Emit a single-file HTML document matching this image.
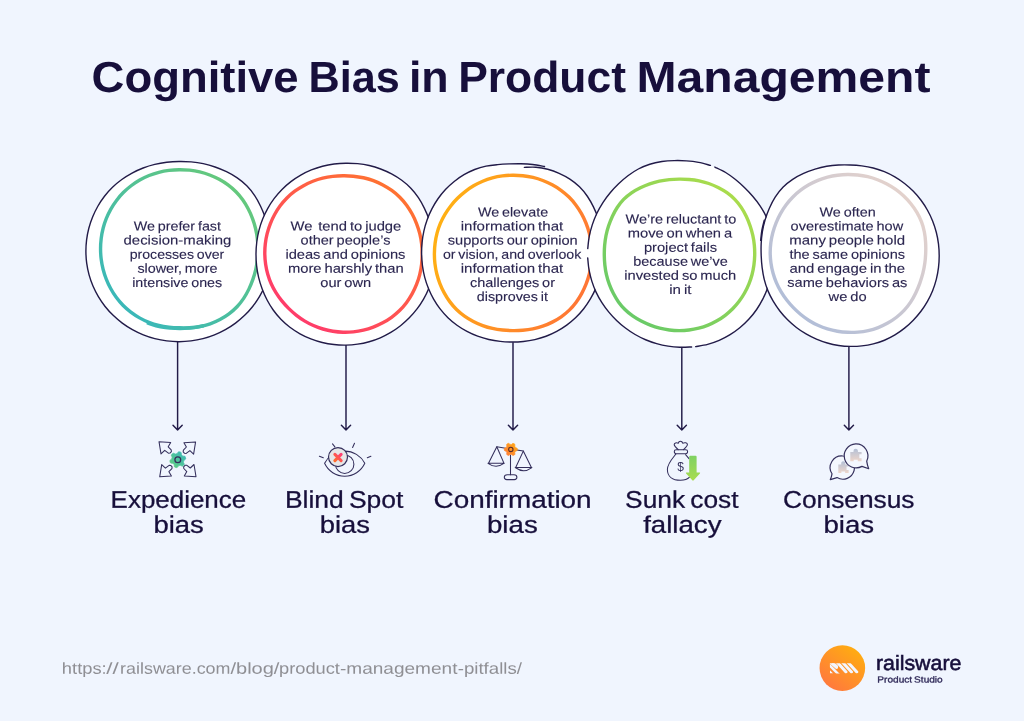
<!DOCTYPE html>
<html lang="en"><head><meta charset="utf-8"><title>Cognitive Bias in Product Management</title>
<style>
html,body{margin:0;padding:0}
body{width:1024px;height:721px;overflow:hidden;background:#f0f5fe;font-family:"Liberation Sans",sans-serif}
.page{position:relative;width:1024px;height:721px;overflow:hidden;background:#f0f5fe}
.art{position:absolute;left:0;top:0}
h1,h2,p{margin:0;font-weight:normal;font-size:inherit}
.ln{position:absolute;left:0;top:0;word-spacing:-0.08em;white-space:pre;line-height:1;transform-origin:0 0;display:block}
.title .ln{font-weight:bold;color:#170f3b}
.desc .ln{color:#2b2650;-webkit-text-stroke:0.12px #2b2650}
.label .ln{color:#170f3b;-webkit-text-stroke:0.28px #170f3b}
.url .ln{color:#8f8f94;text-decoration:none}
.brand .name{color:#170f3b;-webkit-text-stroke:0.55px #170f3b}
.brand .sub{color:#2f2958;-webkit-text-stroke:0.3px #2f2958}
.oc{fill:#fff;stroke:#221b48;stroke-width:1.4}
.of{fill:#fff;stroke:none}
.os{fill:none;stroke:#221b48;stroke-width:1.4;stroke-linecap:round}
.rg{fill:none;stroke-width:3.4;stroke-linecap:round}
.ar{fill:none;stroke:#221b48;stroke-width:1.45;stroke-linecap:round;stroke-linejoin:round}
.ic{fill:none;stroke:#342f5c;stroke-width:1.05;stroke-linecap:round;stroke-linejoin:round}
</style></head><body>
<main class="page">
<svg class="art" width="1024" height="721" viewBox="0 0 1024 721" aria-hidden="true">
<defs>
<linearGradient id="g1" gradientUnits="userSpaceOnUse" x1="240" y1="185" x2="120" y2="315"><stop offset="0" stop-color="#66c97a"/><stop offset="1" stop-color="#38b7bb"/></linearGradient>
<linearGradient id="g2" gradientUnits="userSpaceOnUse" x1="400" y1="190" x2="290" y2="320"><stop offset="0" stop-color="#ff7330"/><stop offset="1" stop-color="#ff3a6c"/></linearGradient>
<linearGradient id="g3" gradientUnits="userSpaceOnUse" x1="432" y1="225" x2="594" y2="280"><stop offset="0" stop-color="#ffb212"/><stop offset="1" stop-color="#ff7436"/></linearGradient>
<linearGradient id="g4" gradientUnits="userSpaceOnUse" x1="735" y1="195" x2="625" y2="315"><stop offset="0" stop-color="#aadc4c"/><stop offset="1" stop-color="#68ca68"/></linearGradient>
<linearGradient id="g5" gradientUnits="userSpaceOnUse" x1="910" y1="195" x2="790" y2="315"><stop offset="0" stop-color="#e4d2cc"/><stop offset="1" stop-color="#b0bdd8"/></linearGradient>
<linearGradient id="gl" x1="0.8" y1="0.1" x2="0.2" y2="0.9"><stop offset="0" stop-color="#ffab12"/><stop offset="1" stop-color="#ff7a3c"/></linearGradient>
<linearGradient id="gi1" x1="1" y1="0" x2="0" y2="1"><stop offset="0" stop-color="#38b6bd"/><stop offset="1" stop-color="#62cf7c"/></linearGradient><linearGradient id="gi3" x1="1" y1="0" x2="0" y2="1"><stop offset="0" stop-color="#ffab15"/><stop offset="1" stop-color="#ff7a38"/></linearGradient><linearGradient id="gx" x1="1" y1="0" x2="0" y2="1"><stop offset="0" stop-color="#ff3f74"/><stop offset="1" stop-color="#ff6c2c"/></linearGradient><linearGradient id="g4a" x1="0" y1="0" x2="0" y2="1"><stop offset="0" stop-color="#7fd163"/><stop offset="1" stop-color="#a9dc4f"/></linearGradient><linearGradient id="g5p" x1="0" y1="0" x2="0" y2="1"><stop offset="0" stop-color="#b4c0d6"/><stop offset="1" stop-color="#eed6cb"/></linearGradient>
</defs>
<path class="ar" d="M177.6 341.5V429.9M173.0 425.3L177.6 430.1L182.2 425.3"/>
<path class="ar" d="M346.0 344.5V429.9M341.4 425.3L346.0 430.1L350.6 425.3"/>
<path class="ar" d="M513.0 342.8V429.9M508.4 425.3L513.0 430.1L517.6 425.3"/>
<path class="ar" d="M681.8 347.5V429.9M677.1999999999999 425.3L681.8 430.1L686.4 425.3"/>
<path class="ar" d="M848.9 346.5V429.9M844.3 425.3L848.9 430.1L853.5 425.3"/>
<path class="oc" d="M271.90 251.60C271.90 255.52 271.61 259.47 271.08 263.36C270.55 267.24 269.76 271.13 268.72 274.92C267.68 278.70 266.37 282.46 264.82 286.08C263.27 289.70 261.46 293.26 259.44 296.65C257.42 300.04 255.15 303.34 252.68 306.45C250.22 309.56 247.52 312.54 244.66 315.31C241.80 318.08 238.72 320.69 235.51 323.08C232.30 325.47 228.90 327.67 225.40 329.63C221.90 331.59 218.23 333.34 214.49 334.84C210.75 336.34 206.88 337.62 202.97 338.63C199.06 339.64 195.05 340.42 191.04 340.93C187.03 341.44 182.95 341.70 178.90 341.70C174.85 341.70 170.77 341.44 166.76 340.93C162.75 340.42 158.74 339.64 154.83 338.63C150.92 337.62 147.05 336.34 143.31 334.84C139.57 333.34 135.90 331.59 132.40 329.63C128.90 327.67 125.50 325.47 122.29 323.08C119.08 320.69 116.00 318.08 113.14 315.31C110.28 312.54 107.58 309.56 105.12 306.45C102.65 303.34 100.38 300.04 98.36 296.65C96.34 293.26 94.53 289.70 92.98 286.08C91.43 282.46 90.13 278.70 89.08 274.92C88.04 271.13 87.26 267.24 86.73 263.36C86.19 259.47 85.92 255.52 85.90 251.60C85.88 247.68 86.11 243.72 86.60 239.83C87.09 235.93 87.83 232.03 88.83 228.22C89.83 224.41 91.11 220.63 92.61 216.97C94.11 213.31 95.86 209.70 97.84 206.25C99.82 202.80 102.04 199.43 104.48 196.26C106.92 193.09 109.62 190.05 112.50 187.25C115.39 184.46 118.53 181.85 121.80 179.48C125.06 177.11 128.54 174.97 132.10 173.05C135.66 171.14 139.38 169.43 143.16 167.99C146.94 166.54 150.85 165.34 154.78 164.39C158.72 163.44 162.74 162.76 166.76 162.28C170.78 161.80 174.85 161.56 178.90 161.50C182.95 161.44 187.03 161.55 191.09 161.91C195.14 162.28 199.21 162.83 203.21 163.67C207.21 164.52 211.19 165.63 215.06 166.97C218.94 168.31 222.78 169.89 226.48 171.70C230.17 173.52 233.84 175.54 237.23 177.89C240.61 180.23 243.90 182.86 246.78 185.77C249.67 188.68 252.24 191.97 254.52 195.34C256.80 198.70 258.70 202.35 260.46 205.96C262.22 209.57 263.72 213.29 265.10 217.01C266.48 220.72 267.74 224.47 268.74 228.28C269.74 232.08 270.57 235.95 271.09 239.84C271.62 243.73 271.90 247.68 271.90 251.60Z"/>
<path class="rg" d="M257.95 248.75C257.97 252.19 257.82 255.66 257.46 259.09C257.10 262.53 256.55 265.97 255.79 269.35C255.02 272.73 254.04 276.09 252.88 279.38C251.73 282.68 250.41 285.95 248.88 289.12C247.34 292.29 245.65 295.46 243.67 298.40C241.70 301.34 239.47 304.19 237.02 306.77C234.57 309.34 231.83 311.71 228.98 313.84C226.13 315.96 223.07 317.86 219.94 319.53C216.81 321.19 213.53 322.65 210.21 323.82C206.89 324.98 203.43 325.88 200.00 326.52C196.56 327.17 193.06 327.48 189.60 327.70C186.14 327.91 182.69 327.89 179.25 327.80C175.81 327.71 172.39 327.53 168.98 327.13C165.57 326.73 162.14 326.21 158.80 325.41C155.45 324.62 152.12 323.60 148.90 322.34C145.69 321.08 142.54 319.56 139.52 317.86C136.51 316.17 133.57 314.26 130.81 312.16C128.05 310.06 125.40 307.75 122.96 305.28C120.53 302.81 118.27 300.12 116.21 297.33C114.16 294.54 112.31 291.57 110.65 288.53C108.99 285.49 107.53 282.33 106.26 279.12C105.00 275.90 103.93 272.59 103.08 269.25C102.23 265.91 101.59 262.49 101.17 259.07C100.75 255.66 100.55 252.19 100.55 248.75C100.55 245.31 100.77 241.84 101.19 238.43C101.62 235.01 102.26 231.59 103.12 228.26C103.98 224.93 105.07 221.62 106.36 218.42C107.64 215.23 109.16 212.09 110.85 209.08C112.54 206.08 114.45 203.16 116.53 200.41C118.60 197.65 120.89 195.01 123.32 192.57C125.75 190.13 128.38 187.83 131.12 185.75C133.86 183.66 136.77 181.75 139.76 180.05C142.75 178.34 145.87 176.82 149.06 175.53C152.24 174.24 155.54 173.16 158.86 172.30C162.18 171.44 165.58 170.82 168.98 170.38C172.38 169.95 175.82 169.73 179.25 169.70C182.68 169.67 186.13 169.81 189.55 170.18C192.96 170.55 196.40 171.11 199.75 171.91C203.10 172.71 206.44 173.74 209.67 174.98C212.91 176.22 216.10 177.68 219.15 179.33C222.21 180.99 225.21 182.85 228.01 184.93C230.81 187.00 233.51 189.31 235.96 191.79C238.41 194.28 240.67 197.02 242.70 199.85C244.73 202.69 246.53 205.72 248.15 208.80C249.77 211.87 251.20 215.07 252.42 218.31C253.65 221.55 254.69 224.87 255.50 228.23C256.32 231.58 256.91 235.01 257.31 238.43C257.72 241.85 257.93 245.31 257.95 248.75Z" stroke="url(#g1)"/>
<path class="rg" style="stroke-linecap:butt" d="M203.58 325.78C202.00 326.09 197.28 327.19 194.11 327.62C190.94 328.06 187.74 328.27 184.56 328.40C181.38 328.52 178.20 328.52 175.03 328.38C171.85 328.24 168.67 328.00 165.51 327.56C162.35 327.12 159.18 326.55 156.08 325.75C152.98 324.94 148.45 323.22 146.92 322.71" stroke="url(#g1)"/>
<path class="oc" d="M435.60 253.80C435.60 257.74 435.33 261.72 434.82 265.62C434.31 269.53 433.54 273.44 432.53 277.25C431.52 281.05 430.26 284.83 428.76 288.47C427.27 292.11 425.52 295.68 423.56 299.09C421.60 302.51 419.40 305.81 417.03 308.94C414.65 312.07 412.05 315.06 409.30 317.86C406.55 320.66 403.60 323.31 400.51 325.74C397.43 328.16 394.16 330.41 390.79 332.42C387.42 334.43 383.89 336.23 380.28 337.78C376.67 339.33 372.93 340.65 369.15 341.71C365.37 342.77 361.48 343.59 357.59 344.15C353.70 344.72 349.74 345.03 345.80 345.10C341.86 345.17 337.88 345.00 333.95 344.56C330.03 344.13 326.09 343.46 322.24 342.51C318.39 341.57 314.56 340.34 310.86 338.89C307.16 337.43 303.51 335.72 300.02 333.78C296.54 331.84 293.12 329.66 289.93 327.24C286.74 324.82 283.68 322.15 280.89 319.28C278.10 316.40 275.52 313.26 273.20 310.00C270.88 306.74 268.81 303.25 266.96 299.72C265.11 296.18 263.49 292.50 262.10 288.78C260.70 285.05 259.53 281.22 258.61 277.37C257.69 273.52 257.03 269.58 256.59 265.65C256.16 261.72 255.97 257.75 256.00 253.80C256.03 249.85 256.28 245.89 256.78 241.98C257.27 238.06 257.99 234.15 258.97 230.33C259.95 226.51 261.18 222.71 262.65 219.05C264.12 215.39 265.85 211.80 267.79 208.36C269.72 204.92 271.90 201.58 274.27 198.43C276.64 195.27 279.25 192.25 282.02 189.45C284.79 186.65 287.79 184.03 290.91 181.63C294.04 179.24 297.35 177.05 300.76 175.09C304.17 173.14 307.73 171.39 311.36 169.91C314.99 168.43 318.75 167.19 322.54 166.21C326.32 165.23 330.21 164.51 334.08 164.01C337.96 163.51 341.89 163.26 345.80 163.20C349.71 163.14 353.65 163.28 357.56 163.67C361.47 164.07 365.40 164.66 369.24 165.55C373.08 166.44 376.91 167.60 380.62 168.99C384.34 170.38 388.01 172.02 391.53 173.90C395.05 175.78 398.52 177.88 401.74 180.26C404.96 182.64 408.08 185.29 410.85 188.18C413.63 191.07 416.14 194.30 418.38 197.62C420.62 200.93 422.54 204.51 424.30 208.08C426.06 211.65 427.58 215.34 428.95 219.05C430.32 222.76 431.56 226.53 432.53 230.35C433.51 234.17 434.31 238.07 434.82 241.98C435.33 245.88 435.60 249.86 435.60 253.80Z"/>
<path class="rg" d="M422.20 254.00C422.20 257.45 422.01 260.92 421.60 264.35C421.18 267.77 420.57 271.21 419.73 274.56C418.89 277.91 417.81 281.24 416.54 284.46C415.27 287.68 413.78 290.85 412.09 293.89C410.41 296.93 408.53 299.90 406.44 302.68C404.35 305.46 402.05 308.13 399.57 310.57C397.09 313.01 394.38 315.27 391.58 317.31C388.77 319.35 385.78 321.18 382.72 322.80C379.67 324.43 376.49 325.86 373.27 327.08C370.05 328.30 366.73 329.32 363.39 330.11C360.06 330.90 356.64 331.47 353.25 331.82C349.85 332.17 346.40 332.30 343.00 332.20C339.60 332.10 336.18 331.78 332.83 331.25C329.48 330.71 326.15 329.95 322.91 329.00C319.66 328.04 316.46 326.87 313.38 325.51C310.30 324.15 307.29 322.57 304.42 320.83C301.55 319.08 298.78 317.13 296.15 315.06C293.52 312.98 291.01 310.73 288.62 308.38C286.24 306.02 283.96 303.54 281.85 300.92C279.74 298.31 277.74 295.57 275.96 292.70C274.19 289.84 272.58 286.83 271.21 283.73C269.85 280.64 268.70 277.42 267.77 274.16C266.83 270.90 266.12 267.55 265.62 264.19C265.13 260.83 264.85 257.40 264.80 254.00C264.75 250.60 264.92 247.16 265.31 243.77C265.70 240.38 266.32 236.99 267.15 233.68C267.98 230.36 269.04 227.07 270.29 223.88C271.54 220.69 272.99 217.55 274.64 214.53C276.29 211.52 278.13 208.56 280.18 205.80C282.23 203.03 284.49 200.36 286.93 197.93C289.36 195.49 292.03 193.23 294.80 191.18C297.56 189.13 300.52 187.29 303.53 185.64C306.55 183.99 309.69 182.53 312.88 181.29C316.08 180.05 319.37 179.02 322.69 178.21C326.01 177.40 329.40 176.83 332.79 176.43C336.17 176.03 339.59 175.84 343.00 175.80C346.41 175.76 349.84 175.86 353.24 176.19C356.65 176.51 360.08 176.99 363.44 177.73C366.79 178.47 370.14 179.45 373.39 180.64C376.63 181.84 379.82 183.28 382.89 184.91C385.96 186.54 388.96 188.38 391.78 190.43C394.59 192.48 397.31 194.76 399.78 197.22C402.25 199.68 404.54 202.39 406.61 205.19C408.67 208.00 410.51 211.01 412.17 214.06C413.83 217.12 415.28 220.31 416.54 223.54C417.80 226.77 418.87 230.09 419.71 233.45C420.55 236.80 421.17 240.23 421.58 243.65C422.00 247.08 422.20 250.55 422.20 254.00Z" stroke="url(#g2)"/>
<path class="of" d="M603.20 253.00C603.02 254.99 602.73 261.00 602.13 264.93C601.52 268.86 600.67 272.78 599.57 276.60C598.48 280.42 597.13 284.18 595.57 287.82C594.01 291.47 592.22 295.04 590.22 298.45C588.22 301.86 586.00 305.18 583.57 308.30C581.14 311.41 578.47 314.39 575.63 317.13C572.80 319.87 569.73 322.43 566.55 324.74C563.36 327.05 559.99 329.14 556.53 331.00C553.08 332.86 549.48 334.50 545.83 335.87C542.17 337.24 538.39 338.36 534.60 339.23C530.82 340.09 526.95 340.67 523.09 341.07C519.24 341.46 515.36 341.62 511.50 341.60C507.64 341.58 503.76 341.39 499.92 340.96C496.08 340.53 492.22 339.92 488.45 339.02C484.68 338.13 480.92 336.98 477.29 335.59C473.65 334.21 470.07 332.57 466.63 330.72C463.19 328.86 459.82 326.79 456.66 324.48C453.49 322.16 450.44 319.61 447.65 316.85C444.85 314.10 442.25 311.08 439.89 307.95C437.53 304.81 435.39 301.46 433.49 298.04C431.58 294.62 429.89 291.04 428.44 287.40C427.00 283.77 425.79 280.01 424.83 276.22C423.88 272.44 423.19 268.56 422.72 264.69C422.25 260.82 422.02 256.90 422.00 253.00C421.98 249.10 422.16 245.18 422.59 241.30C423.02 237.41 423.67 233.52 424.58 229.71C425.50 225.90 426.67 222.12 428.07 218.44C429.48 214.77 431.13 211.15 433.00 207.68C434.88 204.21 436.98 200.80 439.31 197.61C441.65 194.41 444.24 191.34 447.01 188.51C449.79 185.68 452.80 183.02 455.96 180.61C459.11 178.21 462.47 175.99 465.93 174.07C469.40 172.16 473.04 170.43 476.75 169.11C480.47 167.79 484.37 166.83 488.22 166.13C492.08 165.44 496.03 165.17 499.91 164.93C503.79 164.69 507.64 164.69 511.50 164.70C515.36 164.71 519.21 164.72 523.09 164.97C526.96 165.23 530.88 165.55 534.75 166.21C538.63 166.87 542.51 167.78 546.32 168.93C550.14 170.07 553.95 171.45 557.65 173.07C561.35 174.70 565.08 176.50 568.53 178.68C571.97 180.87 575.35 183.37 578.32 186.18C581.29 188.99 583.98 192.22 586.36 195.56C588.75 198.89 590.78 202.52 592.62 206.16C594.46 209.81 596.04 213.60 597.42 217.41C598.80 221.22 599.98 225.12 600.88 229.05C601.77 232.98 602.41 236.99 602.79 240.98C603.18 244.97 603.13 251.00 603.20 253.00Z"/>
<path class="os" d="M524.30 167.35C526.25 167.33 532.10 166.92 536.01 167.24C539.91 167.57 543.87 168.28 547.72 169.28C551.57 170.29 555.42 171.65 559.11 173.28C562.80 174.91 566.48 176.82 569.87 179.07C573.27 181.31 576.58 183.89 579.49 186.75C582.39 189.61 585.00 192.89 587.33 196.25C589.65 199.61 591.63 203.25 593.43 206.90C595.23 210.55 596.78 214.34 598.12 218.15C599.45 221.97 600.59 225.87 601.45 229.79C602.31 233.72 602.91 237.72 603.26 241.70C603.62 245.68 603.72 249.71 603.58 253.69C603.44 257.67 603.06 261.66 602.43 265.58C601.80 269.50 600.93 273.40 599.82 277.20C598.71 281.00 597.34 284.75 595.77 288.38C594.20 292.00 592.40 295.55 590.39 298.95C588.38 302.35 586.15 305.65 583.72 308.75C581.28 311.85 578.62 314.82 575.78 317.55C572.95 320.27 569.88 322.81 566.71 325.11C563.53 327.42 560.16 329.50 556.72 331.36C553.27 333.21 549.68 334.85 546.04 336.22C542.39 337.59 538.63 338.71 534.85 339.58C531.07 340.45 527.21 341.04 523.37 341.44C519.53 341.85 515.66 342.01 511.80 342.00C507.95 341.99 504.08 341.82 500.25 341.40C496.42 340.99 492.57 340.39 488.80 339.51C485.04 338.64 481.29 337.52 477.65 336.16C474.02 334.80 470.43 333.19 466.99 331.36C463.55 329.54 460.17 327.49 457.00 325.21C453.82 322.94 450.76 320.42 447.94 317.70C445.13 314.98 442.50 312.00 440.11 308.90C437.72 305.80 435.55 302.48 433.61 299.08C431.67 295.69 429.95 292.14 428.47 288.53C426.99 284.91 425.73 281.18 424.73 277.42C423.73 273.65 423.00 269.79 422.48 265.94C421.96 262.08 421.68 258.17 421.61 254.29C421.55 250.40 421.68 246.48 422.06 242.61C422.43 238.73 423.02 234.84 423.87 231.03C424.72 227.22 425.82 223.42 427.16 219.74C428.50 216.05 430.09 212.42 431.90 208.93C433.70 205.43 435.73 202.00 437.99 198.77C440.26 195.53 442.77 192.42 445.47 189.53C448.18 186.65 451.13 183.94 454.22 181.46C457.31 178.99 460.61 176.70 464.02 174.71C467.43 172.71 471.01 170.91 474.68 169.48C478.35 168.05 482.20 166.94 486.03 166.13C489.86 165.32 493.80 164.98 497.67 164.61C501.54 164.25 505.39 164.07 509.25 163.92C513.12 163.78 516.98 163.66 520.89 163.74C524.79 163.83 528.75 163.97 532.69 164.43C536.62 164.89 542.55 166.17 544.52 166.52"/>
<path class="rg" d="M591.80 253.40C591.81 256.85 591.62 260.32 591.20 263.75C590.79 267.17 590.17 270.61 589.32 273.96C588.48 277.31 587.40 280.63 586.14 283.86C584.88 287.09 583.42 290.28 581.76 293.33C580.10 296.38 578.25 299.39 576.18 302.19C574.10 304.98 571.80 307.68 569.31 310.11C566.82 312.54 564.07 314.78 561.23 316.78C558.39 318.78 555.36 320.55 552.28 322.12C549.20 323.69 546.00 325.07 542.76 326.20C539.52 327.34 536.18 328.24 532.84 328.92C529.50 329.61 526.10 330.01 522.72 330.29C519.35 330.57 515.97 330.64 512.60 330.60C509.23 330.56 505.86 330.40 502.51 330.04C499.16 329.68 495.79 329.19 492.49 328.44C489.19 327.69 485.91 326.72 482.71 325.55C479.52 324.39 476.36 323.00 473.33 321.42C470.29 319.84 467.29 318.08 464.49 316.09C461.69 314.10 458.99 311.88 456.53 309.47C454.07 307.06 451.79 304.40 449.74 301.63C447.69 298.87 445.86 295.90 444.22 292.88C442.58 289.86 441.13 286.71 439.89 283.52C438.65 280.32 437.59 277.03 436.77 273.72C435.94 270.40 435.34 267.01 434.94 263.62C434.55 260.24 434.37 256.80 434.40 253.40C434.43 250.00 434.65 246.57 435.09 243.20C435.54 239.82 436.18 236.45 437.06 233.16C437.94 229.87 439.04 226.61 440.35 223.47C441.67 220.34 443.23 217.27 444.96 214.35C446.69 211.42 448.65 208.60 450.74 205.93C452.83 203.26 455.11 200.71 457.52 198.32C459.92 195.92 462.48 193.65 465.16 191.57C467.84 189.49 470.66 187.55 473.59 185.83C476.51 184.11 479.58 182.56 482.71 181.25C485.84 179.93 489.10 178.83 492.38 177.94C495.66 177.06 499.03 176.40 502.40 175.94C505.77 175.49 509.20 175.24 512.60 175.20C516.00 175.16 519.44 175.31 522.83 175.69C526.22 176.06 529.63 176.64 532.95 177.44C536.28 178.25 539.59 179.28 542.79 180.51C546.00 181.73 549.17 183.18 552.20 184.81C555.23 186.45 558.21 188.28 561.00 190.32C563.80 192.36 566.49 194.61 568.96 197.04C571.42 199.47 573.73 202.13 575.81 204.90C577.90 207.66 579.79 210.61 581.48 213.63C583.17 216.65 584.67 219.81 585.96 223.01C587.24 226.22 588.34 229.53 589.20 232.87C590.07 236.22 590.71 239.64 591.14 243.06C591.57 246.48 591.79 249.95 591.80 253.40Z" stroke="url(#g3)"/>
<path class="of" d="M772.80 254.00C772.69 256.02 772.61 262.11 772.16 266.13C771.72 270.16 771.06 274.19 770.11 278.14C769.17 282.09 767.96 286.02 766.51 289.82C765.05 293.62 763.32 297.36 761.37 300.95C759.43 304.54 757.23 308.05 754.82 311.35C752.40 314.65 749.72 317.82 746.87 320.75C744.01 323.69 740.91 326.45 737.68 328.96C734.44 331.47 730.99 333.79 727.44 335.81C723.88 337.84 720.14 339.65 716.33 341.12C712.53 342.60 708.56 343.78 704.59 344.67C700.62 345.57 696.56 346.13 692.52 346.49C688.49 346.84 684.42 346.93 680.40 346.80C676.38 346.67 672.34 346.33 668.38 345.73C664.41 345.13 660.45 344.29 656.60 343.20C652.75 342.11 648.94 340.76 645.27 339.18C641.60 337.60 638.01 335.76 634.58 333.71C631.15 331.67 627.83 329.38 624.68 326.93C621.54 324.47 618.53 321.80 615.70 318.98C612.87 316.17 610.17 313.17 607.69 310.03C605.21 306.89 602.89 303.58 600.82 300.14C598.76 296.71 596.90 293.09 595.31 289.40C593.73 285.70 592.39 281.86 591.31 277.98C590.23 274.09 589.41 270.10 588.86 266.10C588.31 262.11 588.01 258.04 588.00 254.00C587.99 249.96 588.25 245.89 588.78 241.89C589.31 237.88 590.12 233.88 591.16 229.98C592.20 226.08 593.50 222.22 595.03 218.49C596.57 214.75 598.35 211.09 600.35 207.58C602.35 204.08 604.60 200.68 607.01 197.45C609.43 194.21 612.08 191.12 614.85 188.17C617.62 185.21 620.55 182.36 623.65 179.72C626.75 177.08 630.01 174.53 633.46 172.35C636.91 170.16 640.57 168.16 644.35 166.60C648.13 165.04 652.13 163.87 656.12 162.98C660.10 162.10 664.20 161.62 668.25 161.29C672.29 160.96 676.36 160.91 680.40 161.00C684.44 161.09 688.48 161.31 692.48 161.81C696.49 162.32 700.50 163.00 704.41 164.01C708.31 165.02 712.21 166.30 715.91 167.89C719.61 169.49 723.21 171.46 726.62 173.60C730.03 175.74 733.26 178.20 736.36 180.75C739.47 183.30 742.40 186.05 745.24 188.88C748.09 191.70 750.86 194.62 753.44 197.71C756.01 200.81 758.51 204.03 760.68 207.45C762.84 210.87 764.83 214.49 766.41 218.22C768.00 221.95 769.23 225.89 770.20 229.83C771.16 233.78 771.77 237.83 772.21 241.86C772.64 245.89 772.70 251.98 772.80 254.00Z"/>
<path class="os" d="M691.60 346.96C689.63 347.00 683.72 347.33 679.80 347.18C675.89 347.04 671.96 346.69 668.10 346.09C664.24 345.50 660.39 344.68 656.64 343.62C652.89 342.57 649.18 341.27 645.60 339.76C642.01 338.24 638.50 336.47 635.14 334.51C631.79 332.56 628.53 330.36 625.44 328.01C622.35 325.66 619.38 323.10 616.58 320.41C613.78 317.71 611.11 314.84 608.64 311.84C606.16 308.83 603.83 305.67 601.73 302.37C599.64 299.08 597.72 295.62 596.07 292.08C594.42 288.53 592.99 284.84 591.82 281.10C590.64 277.36 589.70 273.50 589.01 269.64C588.32 265.77 587.92 259.86 587.70 257.90"/>
<path class="os" d="M587.74 248.63C587.99 246.61 588.49 240.48 589.25 236.48C590.02 232.48 591.07 228.50 592.34 224.63C593.62 220.76 595.15 216.94 596.91 213.27C598.67 209.60 600.70 206.02 602.92 202.61C605.14 199.19 607.60 195.90 610.21 192.77C612.82 189.64 615.64 186.65 618.60 183.81C621.55 180.97 624.64 178.20 627.93 175.73C631.23 173.27 634.71 170.92 638.36 169.00C642.01 167.08 645.89 165.45 649.82 164.21C653.75 162.96 657.87 162.15 661.93 161.55C666.00 160.95 670.13 160.72 674.21 160.60C678.30 160.49 682.38 160.57 686.44 160.85C690.51 161.14 694.58 161.58 698.58 162.33C702.58 163.08 708.46 164.87 710.44 165.37"/>
<path class="os" d="M714.87 167.02C716.66 167.94 722.21 170.44 725.64 172.52C729.08 174.60 732.34 177.00 735.47 179.50C738.60 182.00 741.55 184.72 744.42 187.50C747.29 190.29 750.07 193.17 752.68 196.22C755.29 199.26 757.83 202.43 760.06 205.79C762.29 209.15 764.36 212.70 766.04 216.37C767.71 220.05 769.05 223.95 770.11 227.85C771.17 231.75 771.87 235.79 772.38 239.80C772.89 243.81 773.12 247.86 773.18 251.89C773.25 255.93 773.14 259.98 772.78 264.00C772.41 268.01 771.85 272.05 771.00 276.00C770.16 279.96 769.06 283.90 767.71 287.73C766.35 291.55 764.72 295.32 762.88 298.94C761.03 302.57 758.94 306.12 756.63 309.48C754.32 312.83 751.75 316.07 749.00 319.09C746.24 322.10 743.23 324.94 740.08 327.54C736.93 330.14 733.58 332.56 730.10 334.70C726.62 336.84 722.96 338.76 719.21 340.37C715.47 341.98 711.57 343.32 707.64 344.35C703.71 345.38 697.66 346.20 695.66 346.57"/>
<path class="rg" d="M754.70 255.15C754.63 258.45 754.38 261.76 753.93 265.02C753.48 268.28 752.85 271.54 752.00 274.72C751.16 277.90 750.10 281.05 748.86 284.10C747.62 287.15 746.17 290.14 744.55 293.00C742.93 295.87 741.11 298.66 739.13 301.29C737.15 303.92 734.98 306.45 732.66 308.78C730.34 311.12 727.83 313.32 725.22 315.32C722.61 317.33 719.83 319.17 716.98 320.80C714.13 322.44 711.14 323.90 708.09 325.13C705.05 326.37 701.89 327.40 698.71 328.22C695.53 329.03 692.28 329.62 689.02 330.02C685.77 330.41 682.47 330.61 679.20 330.60C675.93 330.59 672.63 330.39 669.38 329.98C666.13 329.57 662.89 328.94 659.71 328.14C656.53 327.33 653.38 326.30 650.31 325.13C647.23 323.96 644.18 322.64 641.24 321.11C638.30 319.59 635.39 317.91 632.67 315.98C629.96 314.06 627.33 311.91 624.96 309.56C622.60 307.21 620.44 304.59 618.49 301.89C616.55 299.18 614.83 296.27 613.30 293.32C611.76 290.38 610.41 287.32 609.26 284.21C608.12 281.11 607.17 277.92 606.43 274.71C605.70 271.51 605.21 268.23 604.85 264.97C604.50 261.71 604.34 258.43 604.30 255.15C604.26 251.87 604.35 248.58 604.64 245.30C604.93 242.02 605.36 238.72 606.02 235.48C606.68 232.23 607.57 228.99 608.62 225.82C609.67 222.64 610.89 219.48 612.32 216.41C613.75 213.35 615.33 210.27 617.22 207.44C619.10 204.60 621.24 201.83 623.62 199.39C626.01 196.96 628.73 194.77 631.53 192.83C634.33 190.89 637.38 189.25 640.42 187.76C643.46 186.27 646.60 184.98 649.77 183.87C652.94 182.77 656.18 181.83 659.43 181.12C662.68 180.41 665.99 179.94 669.29 179.60C672.58 179.26 675.89 179.13 679.20 179.10C682.51 179.07 685.83 179.15 689.13 179.44C692.44 179.72 695.78 180.13 699.06 180.80C702.33 181.48 705.60 182.39 708.78 183.50C711.96 184.62 715.11 185.96 718.13 187.50C721.16 189.04 724.16 190.76 726.93 192.74C729.71 194.73 732.40 196.95 734.78 199.39C737.16 201.84 739.31 204.58 741.22 207.41C743.13 210.23 744.76 213.28 746.23 216.32C747.70 219.37 748.96 222.53 750.06 225.70C751.16 228.88 752.10 232.11 752.81 235.36C753.52 238.62 754.03 241.93 754.34 245.22C754.66 248.52 754.77 251.85 754.70 255.15Z" stroke="url(#g4)"/>
<path class="of" d="M938.80 255.80C938.68 257.77 938.57 263.71 938.09 267.62C937.60 271.53 936.88 275.44 935.91 279.26C934.94 283.07 933.71 286.86 932.24 290.51C930.77 294.16 929.04 297.74 927.11 301.15C925.17 304.57 922.99 307.88 920.64 311.01C918.29 314.14 915.71 317.13 912.99 319.93C910.27 322.74 907.37 325.41 904.33 327.85C901.29 330.29 898.07 332.58 894.74 334.58C891.40 336.59 887.88 338.39 884.30 339.87C880.71 341.36 876.96 342.57 873.21 343.51C869.45 344.44 865.60 345.09 861.76 345.50C857.93 345.92 854.04 346.08 850.20 346.00C846.36 345.92 842.49 345.61 838.70 345.04C834.90 344.48 831.12 343.66 827.43 342.61C823.74 341.56 820.09 340.27 816.56 338.76C813.03 337.26 809.57 335.52 806.25 333.58C802.93 331.63 799.70 329.46 796.64 327.11C793.58 324.75 790.65 322.17 787.90 319.44C785.16 316.71 782.55 313.78 780.15 310.71C777.75 307.64 775.51 304.39 773.52 301.02C771.54 297.65 769.74 294.10 768.25 290.47C766.77 286.84 765.57 283.04 764.62 279.22C763.67 275.41 763.04 271.49 762.53 267.59C762.03 263.69 761.76 259.75 761.60 255.80C761.44 251.85 761.38 247.87 761.56 243.88C761.75 239.89 762.08 235.85 762.73 231.87C763.38 227.89 764.32 223.90 765.48 219.98C766.64 216.07 768.04 212.16 769.71 208.38C771.38 204.60 773.24 200.80 775.50 197.32C777.75 193.84 780.33 190.44 783.24 187.49C786.14 184.55 789.50 181.93 792.92 179.65C796.35 177.37 800.10 175.49 803.81 173.80C807.52 172.11 811.35 170.70 815.18 169.51C819.02 168.32 822.92 167.36 826.81 166.68C830.71 166.00 834.65 165.65 838.55 165.43C842.45 165.22 846.34 165.25 850.20 165.40C854.06 165.55 857.91 165.81 861.73 166.31C865.56 166.81 869.39 167.44 873.13 168.39C876.87 169.34 880.60 170.54 884.18 172.00C887.77 173.47 891.27 175.24 894.63 177.20C897.98 179.16 901.24 181.37 904.31 183.77C907.38 186.17 910.33 188.80 913.06 191.59C915.80 194.39 918.37 197.39 920.72 200.53C923.06 203.67 925.22 207.00 927.14 210.43C929.07 213.85 930.78 217.44 932.24 221.09C933.70 224.74 934.93 228.53 935.90 232.34C936.88 236.16 937.60 240.07 938.08 243.98C938.57 247.89 938.68 253.83 938.80 255.80Z"/>
<path class="os" d="M939.20 255.80C939.20 259.76 938.97 263.74 938.48 267.67C938.00 271.60 937.27 275.53 936.30 279.36C935.32 283.19 934.08 287.00 932.61 290.66C931.14 294.33 929.40 297.92 927.45 301.35C925.51 304.78 923.32 308.10 920.96 311.25C918.59 314.39 916.00 317.40 913.27 320.22C910.54 323.04 907.63 325.72 904.57 328.17C901.52 330.62 898.29 332.92 894.94 334.93C891.58 336.94 888.05 338.75 884.45 340.24C880.85 341.74 877.09 342.95 873.31 343.89C869.54 344.84 865.67 345.48 861.81 345.90C857.96 346.32 854.06 346.48 850.20 346.40C846.34 346.32 842.46 346.01 838.65 345.44C834.83 344.87 831.03 344.05 827.33 343.00C823.62 341.95 819.96 340.65 816.41 339.13C812.86 337.62 809.38 335.87 806.05 333.92C802.71 331.97 799.47 329.79 796.40 327.43C793.33 325.06 790.38 322.47 787.62 319.72C784.86 316.98 782.24 314.04 779.83 310.95C777.43 307.87 775.17 304.61 773.18 301.22C771.19 297.83 769.37 294.27 767.88 290.62C766.39 286.98 765.19 283.16 764.23 279.33C763.28 275.50 762.64 271.56 762.14 267.64C761.63 263.72 761.36 259.77 761.20 255.80C761.04 251.83 760.98 247.84 761.17 243.83C761.36 239.83 761.69 235.77 762.34 231.77C763.00 227.77 763.94 223.76 765.11 219.83C766.28 215.90 767.69 211.97 769.37 208.18C771.05 204.39 772.91 200.57 775.18 197.08C777.44 193.58 780.04 190.17 782.95 187.21C785.87 184.25 789.24 181.62 792.68 179.33C796.12 177.04 799.88 175.16 803.61 173.46C807.33 171.76 811.18 170.33 815.03 169.14C818.88 167.95 822.80 166.98 826.71 166.29C830.62 165.61 834.58 165.25 838.50 165.04C842.41 164.82 846.32 164.85 850.20 165.00C854.08 165.15 857.95 165.41 861.79 165.91C865.62 166.41 869.47 167.05 873.23 168.00C876.99 168.96 880.74 170.16 884.34 171.63C887.93 173.11 891.46 174.89 894.83 176.86C898.20 178.83 901.47 181.05 904.56 183.45C907.64 185.86 910.60 188.51 913.34 191.31C916.09 194.12 918.68 197.14 921.03 200.29C923.39 203.44 925.56 206.78 927.49 210.23C929.42 213.67 931.14 217.27 932.61 220.94C934.08 224.61 935.31 228.41 936.29 232.24C937.27 236.07 937.99 240.00 938.48 243.93C938.96 247.86 939.20 251.84 939.20 255.80Z"/>
<path class="os" d="M760.67 240.34C760.87 238.65 761.30 233.57 761.90 230.21C762.50 226.85 763.87 221.86 764.27 220.19"/>
<path class="rg" d="M925.70 252.80C925.57 256.25 925.32 259.69 924.85 263.09C924.38 266.49 923.73 269.88 922.90 273.21C922.06 276.54 921.02 279.83 919.85 283.07C918.67 286.31 917.36 289.53 915.85 292.65C914.34 295.78 912.69 298.91 910.77 301.82C908.85 304.74 906.69 307.57 904.31 310.15C901.93 312.72 899.27 315.10 896.51 317.25C893.74 319.41 890.77 321.35 887.72 323.07C884.67 324.78 881.47 326.29 878.21 327.54C874.96 328.79 871.59 329.80 868.20 330.56C864.82 331.32 861.36 331.81 857.92 332.10C854.49 332.39 851.02 332.44 847.60 332.30C844.18 332.16 840.75 331.82 837.39 331.26C834.03 330.69 830.68 329.91 827.44 328.93C824.19 327.94 820.98 326.73 817.90 325.32C814.83 323.92 811.83 322.28 808.98 320.48C806.12 318.67 803.39 316.66 800.79 314.52C798.18 312.39 795.71 310.08 793.36 307.67C791.02 305.26 788.78 302.72 786.72 300.06C784.65 297.40 782.70 294.62 780.98 291.71C779.26 288.81 777.70 285.77 776.37 282.65C775.04 279.53 773.92 276.29 773.01 273.02C772.11 269.75 771.40 266.38 770.94 263.01C770.47 259.64 770.21 256.21 770.20 252.80C770.19 249.39 770.41 245.96 770.85 242.58C771.29 239.20 771.97 235.83 772.85 232.54C773.72 229.25 774.82 225.99 776.09 222.84C777.36 219.68 778.83 216.58 780.49 213.60C782.14 210.63 783.99 207.73 786.02 205.00C788.04 202.27 790.27 199.64 792.66 197.22C795.04 194.80 797.63 192.53 800.32 190.47C803.01 188.40 805.87 186.52 808.81 184.84C811.75 183.15 814.82 181.65 817.94 180.37C821.07 179.09 824.30 178.00 827.56 177.14C830.82 176.28 834.16 175.65 837.50 175.21C840.84 174.77 844.23 174.54 847.60 174.50C850.97 174.46 854.37 174.62 857.73 174.99C861.09 175.36 864.45 175.92 867.75 176.71C871.05 177.50 874.34 178.51 877.53 179.72C880.72 180.93 883.87 182.35 886.90 183.96C889.93 185.57 892.90 187.38 895.71 189.39C898.52 191.40 901.22 193.63 903.74 196.02C906.27 198.41 908.67 200.99 910.86 203.71C913.05 206.43 915.11 209.32 916.89 212.35C918.66 215.37 920.26 218.57 921.51 221.84C922.76 225.12 923.69 228.57 924.37 232.00C925.05 235.43 925.38 238.95 925.60 242.41C925.83 245.88 925.83 249.35 925.70 252.80Z" stroke="url(#g5)"/>
<g class="icon icon1"><path class="ic" d="M159.00 441.70L170.70 442.50L168.20 446.80L171.20 449.90L171.40 451.60L170.00 453.10L168.40 453.20L164.70 450.40L161.00 453.90Z"/><path class="ic" d="M195.60 441.90L183.90 442.70L186.40 447.00L183.40 450.10L183.20 451.80L184.60 453.30L186.20 453.40L189.90 450.60L193.60 454.10Z"/><path class="ic" d="M159.70 476.80L171.40 476.00L168.90 471.70L171.90 468.60L172.10 466.90L170.70 465.40L169.10 465.30L165.40 468.10L161.70 464.60Z"/><path class="ic" d="M196.00 476.70L184.30 475.90L186.80 471.60L183.80 468.50L183.60 466.80L185.00 465.30L186.60 465.20L190.30 468.00L194.00 464.50Z"/><path d="M184.85 459.70L185.67 459.01L185.68 458.31L185.53 457.63L185.32 456.96L184.96 456.36L183.91 456.18L182.87 456.15L182.47 455.78L182.11 455.39L181.72 455.03L181.35 454.63L181.33 453.59L181.14 452.54L180.54 452.18L179.87 451.97L179.19 451.82L178.49 451.83L177.80 452.65L177.26 453.53L176.74 453.69L176.22 453.81L175.71 453.97L175.18 454.09L174.28 453.59L173.27 453.22L172.66 453.57L172.14 454.04L171.67 454.56L171.32 455.17L171.69 456.18L172.19 457.08L172.07 457.61L171.91 458.12L171.79 458.64L171.63 459.16L170.75 459.70L169.93 460.39L169.92 461.09L170.07 461.77L170.28 462.44L170.64 463.04L171.69 463.22L172.73 463.25L173.13 463.62L173.49 464.01L173.88 464.37L174.25 464.77L174.28 465.81L174.46 466.86L175.06 467.22L175.73 467.43L176.41 467.58L177.11 467.57L177.80 466.75L178.34 465.87L178.86 465.71L179.38 465.59L179.89 465.43L180.42 465.31L181.33 465.81L182.33 466.18L182.94 465.83L183.46 465.36L183.93 464.84L184.28 464.23L183.91 463.22L183.41 462.32L183.53 461.79L183.69 461.28L183.81 460.76L183.97 460.24Z" fill="url(#gi1)" stroke="url(#gi1)" stroke-width="0.8" stroke-linejoin="round"/><circle cx="177.8" cy="459.7" r="2.9" fill="none" stroke="#342f5c" stroke-width="1.3"/></g>
<g class="icon icon2"><path class="ic" d="M324.6 463.3A22.7 22.7 0 0 1 364.8 463.3A22.1 22.1 0 0 1 324.6 463.3Z"/><circle class="ic" cx="344.7" cy="464.2" r="9.2"/><circle cx="338" cy="457.05" r="9.5" fill="#e6e6e6" stroke="#342f5c" stroke-width="1.2"/><path d="M334.9 454.4L341.1 460.6M341.1 454.4L334.9 460.6" fill="none" stroke="url(#gx)" stroke-width="3.1" stroke-linecap="round"/><path class="ic" d="M332.5 443.9L334.9 446.9M354.5 443.2L352.6 447.5M319.4 456.2L323.3 457.8M367.3 457.8L370.9 456.2"/></g>
<g class="icon icon3"><path class="ic" d="M496.8 446.8L523.3 451.1"/><path class="ic" d="M488.5 463.3L496.8 446.8L503.8 462.9M488 463.3H504.3M488.4 463.6Q496.2 469 503.9 463.4"/><path class="ic" d="M515.7 467.5L523.3 451.1L531.4 467.5M515.2 467.5H531.9M515.6 467.8Q523.6 473.6 531.5 467.8"/><path class="ic" d="M510.5 455V474.7"/><path class="ic" d="M507.3 474.7H514Q516.9 474.7 516.9 477.3Q516.9 479.6 514.4 479.6H506.8Q504.3 479.6 504.3 477.3Q504.3 474.7 507.3 474.7Z"/><path d="M517.30 449.40L517.28 448.83L517.13 448.28L516.35 447.91L515.57 447.66L515.33 447.29L515.13 446.90L514.90 446.53L514.69 446.14L514.87 445.33L514.93 444.48L514.53 444.08L514.05 443.77L513.55 443.51L513.00 443.36L512.29 443.85L511.68 444.40L511.24 444.42L510.80 444.40L510.36 444.42L509.92 444.40L509.31 443.85L508.60 443.36L508.05 443.51L507.55 443.77L507.07 444.08L506.67 444.48L506.73 445.33L506.91 446.14L506.70 446.53L506.47 446.90L506.27 447.29L506.03 447.66L505.25 447.91L504.47 448.28L504.32 448.83L504.30 449.40L504.32 449.97L504.47 450.52L505.25 450.89L506.03 451.14L506.27 451.51L506.47 451.90L506.70 452.27L506.91 452.66L506.73 453.47L506.67 454.32L507.07 454.72L507.55 455.03L508.05 455.29L508.60 455.44L509.31 454.95L509.92 454.40L510.36 454.38L510.80 454.40L511.24 454.38L511.68 454.40L512.29 454.95L513.00 455.44L513.55 455.29L514.05 455.03L514.53 454.72L514.93 454.32L514.87 453.47L514.69 452.66L514.90 452.27L515.13 451.90L515.33 451.51L515.57 451.14L516.35 450.89L517.13 450.52L517.28 449.97Z" fill="url(#gi3)" stroke="url(#gi3)" stroke-width="0.8" stroke-linejoin="round"/><circle cx="510.8" cy="449.4" r="2.2" fill="none" stroke="#5a2d2a" stroke-width="1.1"/></g>
<g class="icon icon4"><path class="ic" d="M678.2 449.6C676.5 448 674.2 446.3 674.2 444.6C674.2 442.9 676.5 442.4 678.3 443.2C678.6 441.8 679.5 441.2 680.4 441.2C681.4 441.2 682.4 441.8 682.7 443.2C684.6 442.4 687.4 442.6 687.4 444.6C687.4 446.3 685.2 448 683.4 449.6"/><path class="ic" d="M676.2 449.7H685.6Q687.6 449.7 687.6 451.6Q687.6 453.7 685.6 453.7H676.2Q674.3 453.7 674.3 451.6Q674.3 449.7 676.2 449.7Z"/><path class="ic" d="M675.8 454.2C671.5 459.5 667.4 464 667.4 469.5C667.4 476.5 672.5 480.3 680.5 480.3C684.5 480.3 687.5 479.3 689.5 477.2M685.6 454.6L689 458.6"/><text x="680.6" y="471.4" text-anchor="middle" font-family="Liberation Sans, sans-serif" font-size="12.6" fill="#342f5c" transform="translate(680.6 0) scale(0.95 1) translate(-680.6 0)">$</text><path d="M690.2 455.7H695.6Q696.6 455.7 696.6 456.7V472.6H699.6Q700.6 472.6 699.9 473.5L693.7 480.3Q693 481 692.3 480.3L686.1 473.5Q685.4 472.6 686.4 472.6H689.2V456.7Q689.2 455.7 690.2 455.7Z" fill="url(#g4a)"/></g>
<g class="icon icon5"><path d="M842.9 456.0A11.6 11.6 0 1 1 837.0 477.6Q833.8 478.4 830.3 479.6Q831.6 476.6 832.0 473.8A11.6 11.6 0 0 1 842.9 456.0Z" fill="#f4f7fe" stroke="#342f5c" stroke-width="1.2" stroke-linejoin="round"/><path d="M838.30 464.46H841.18Q840.98 461.30 843.24 461.30Q845.51 461.30 845.30 464.46H848.60V466.56H846.54V470.07H848.60V473.00H845.10V471.60H841.39V473.00H838.30Z" fill="url(#g5p)"/><path d="M855.7 443.9A12 12 0 0 1 866.7 461.2Q867.2 465 868.7 468.7Q865.2 467.5 862.0 466.4A12 12 0 1 1 855.7 443.9Z" fill="#f4f7fe" stroke="#342f5c" stroke-width="1.2" stroke-linejoin="round"/><path d="M850.30 452.10H853.46Q853.24 448.70 855.72 448.70Q858.21 448.70 857.98 452.10H861.60V454.37H859.34V458.15H861.60V461.30H857.76V459.79H853.69V461.30H850.30Z" fill="url(#g5p)"/></g>
<g class="logo"><circle cx="842.35" cy="668.1" r="22.8" fill="url(#gl)"/><clipPath id="lc"><rect x="829.9" y="663.2" width="30" height="10.25"/></clipPath><g clip-path="url(#lc)" stroke="#f3f6ff" stroke-width="2.95" fill="none" stroke-linecap="round"><path d="M835.22 660.05L846.00 671.95"/><path d="M840.44 660.05L851.50 671.95"/><path d="M845.88 660.05L856.80 671.95"/><path d="M829.0 661.0L836.5 667.5"/><path d="M831.0 661.0L836.9 666.5" stroke-width="2.4"/><path d="M827.5 663.3L839.5 675.3" stroke-linecap="butt" stroke-width="2.5"/><path d="M829.9 670.3L833.2 673.5H829.9Z" fill="#f3f6ff" stroke="none"/></g></g>
</svg>
<h1 class="title"><span class="ln" style="font-size:43.5px;transform:translate(91.58px,55.95px) rotate(0.03deg) scaleX(1.0448)">Cognitive</span> <span class="ln" style="font-size:43.5px;transform:translate(308.55px,55.98px) rotate(0.03deg) scaleX(0.9925)">Bias</span> <span class="ln" style="font-size:43.5px;transform:translate(408.96px,55.99px) rotate(0.03deg) scaleX(1.0270)">in</span> <span class="ln" style="font-size:43.5px;transform:translate(458.22px,55.96px) rotate(0.03deg) scaleX(1.0207)">Product</span> <span class="ln" style="font-size:43.5px;transform:translate(636.49px,55.92px) rotate(0.03deg) scaleX(1.1059)">Management</span></h1>
<section class="card card1">
<p class="desc"><span class="ln" style="font-size:13px;transform:translate(133.66px,219.48px) rotate(0.03deg) scaleX(1.1010)">We prefer fast</span><span class="ln" style="font-size:13px;transform:translate(123.59px,233.57px) rotate(0.03deg) scaleX(1.1464)">decision-making</span><span class="ln" style="font-size:13px;transform:translate(129.68px,247.68px) rotate(0.03deg) scaleX(1.0858)">processes over</span><span class="ln" style="font-size:13px;transform:translate(137.44px,261.78px) rotate(0.03deg) scaleX(1.1023)">slower, more</span><span class="ln" style="font-size:13px;transform:translate(132.17px,275.88px) rotate(0.03deg) scaleX(1.0962)">intensive ones</span></p>
<h2 class="label"><span class="ln" style="font-size:24px;transform:translate(110.61px,487.77px) rotate(0.03deg) scaleX(1.0811)">Expedience</span><span class="ln" style="font-size:24px;transform:translate(153.42px,512.79px) rotate(0.03deg) scaleX(1.1446)">bias</span></h2>
</section>
<section class="card card2">
<p class="desc"><span class="ln" style="font-size:13px;transform:translate(290.46px,219.47px) rotate(0.03deg) scaleX(1.1367)">We  tend to judge</span><span class="ln" style="font-size:13px;transform:translate(300.61px,233.58px) rotate(0.03deg) scaleX(1.1168)">other people’s</span><span class="ln" style="font-size:13px;transform:translate(285.39px,247.67px) rotate(0.03deg) scaleX(1.1285)">ideas and opinions</span><span class="ln" style="font-size:13px;transform:translate(287.89px,261.77px) rotate(0.03deg) scaleX(1.1354)">more harshly than</span><span class="ln" style="font-size:13px;transform:translate(320.35px,275.89px) rotate(0.03deg) scaleX(1.1238)">our own</span></p>
<h2 class="label"><span class="ln" style="font-size:24px;transform:translate(284.97px,487.77px) rotate(0.03deg) scaleX(1.1015)">Blind Spot</span><span class="ln" style="font-size:24px;transform:translate(319.68px,512.79px) rotate(0.03deg) scaleX(1.1410)">bias</span></h2>
</section>
<section class="card card3">
<p class="desc"><span class="ln" style="font-size:13px;transform:translate(477.96px,205.38px) rotate(0.03deg) scaleX(1.1004)">We elevate</span><span class="ln" style="font-size:13px;transform:translate(460.72px,219.47px) rotate(0.03deg) scaleX(1.1570)">information that</span><span class="ln" style="font-size:13px;transform:translate(447.73px,233.57px) rotate(0.03deg) scaleX(1.1236)">supports our opinion</span><span class="ln" style="font-size:13px;transform:translate(442.92px,247.66px) rotate(0.03deg) scaleX(1.0902)">or vision, and overlook</span><span class="ln" style="font-size:13px;transform:translate(460.72px,261.77px) rotate(0.03deg) scaleX(1.1570)">information that</span><span class="ln" style="font-size:13px;transform:translate(469.91px,275.88px) rotate(0.03deg) scaleX(1.1156)">challenges or</span><span class="ln" style="font-size:13px;transform:translate(476.81px,289.98px) rotate(0.03deg) scaleX(1.0984)">disproves it</span></p>
<h2 class="label"><span class="ln" style="font-size:24px;transform:translate(433.53px,487.76px) rotate(0.03deg) scaleX(1.1620)">Confirmation</span><span class="ln" style="font-size:24px;transform:translate(487.01px,512.79px) rotate(0.03deg) scaleX(1.1518)">bias</span></h2>
</section>
<section class="card card4">
<p class="desc"><span class="ln" style="font-size:13px;transform:translate(625.56px,212.42px) rotate(0.03deg) scaleX(1.1121)">We’re reluctant to</span><span class="ln" style="font-size:13px;transform:translate(627.74px,226.52px) rotate(0.03deg) scaleX(1.1309)">move on when a</span><span class="ln" style="font-size:13px;transform:translate(643.89px,240.63px) rotate(0.03deg) scaleX(1.1298)">project fails</span><span class="ln" style="font-size:13px;transform:translate(633.26px,254.73px) rotate(0.03deg) scaleX(1.1126)">because we’ve</span><span class="ln" style="font-size:13px;transform:translate(624.24px,268.82px) rotate(0.03deg) scaleX(1.1306)">invested so much</span><span class="ln" style="font-size:13px;transform:translate(669.22px,282.94px) rotate(0.03deg) scaleX(1.1606)">in it</span></p>
<h2 class="label"><span class="ln" style="font-size:24px;transform:translate(625.12px,487.77px) rotate(0.03deg) scaleX(1.0960)">Sunk cost</span><span class="ln" style="font-size:24px;transform:translate(643.14px,512.78px) rotate(0.03deg) scaleX(1.1513)">fallacy</span></h2>
</section>
<section class="card card5">
<p class="desc"><span class="ln" style="font-size:13px;transform:translate(819.56px,205.39px) rotate(0.03deg) scaleX(1.1051)">We often</span><span class="ln" style="font-size:13px;transform:translate(790.61px,219.47px) rotate(0.03deg) scaleX(1.1162)">overestimate how</span><span class="ln" style="font-size:13px;transform:translate(789.32px,233.57px) rotate(0.03deg) scaleX(1.1512)">many people hold</span><span class="ln" style="font-size:13px;transform:translate(789.46px,247.67px) rotate(0.03deg) scaleX(1.1170)">the same opinions</span><span class="ln" style="font-size:13px;transform:translate(789.49px,261.77px) rotate(0.03deg) scaleX(1.1453)">and engage in the</span><span class="ln" style="font-size:13px;transform:translate(787.33px,275.87px) rotate(0.03deg) scaleX(1.1208)">same behaviors as</span><span class="ln" style="font-size:13px;transform:translate(828.59px,289.99px) rotate(0.03deg) scaleX(1.1276)">we do</span></p>
<h2 class="label"><span class="ln" style="font-size:24px;transform:translate(782.91px,487.77px) rotate(0.03deg) scaleX(1.0954)">Consensus</span><span class="ln" style="font-size:24px;transform:translate(823.41px,512.79px) rotate(0.03deg) scaleX(1.1518)">bias</span></h2>
</section>
<footer>
<div class="url"><span class="ln" style="font-size:16px;transform:translate(61.86px,660.74px) rotate(0.03deg) scaleX(1.1448)">https:</span><span class="ln" style="font-size:16px;transform:translate(106.25px,660.75px) rotate(0.03deg) scaleX(1.3974)">//</span><span class="ln" style="font-size:16px;transform:translate(120.13px,660.72px) rotate(0.03deg) scaleX(1.1176)">railsware.com</span><span class="ln" style="font-size:16px;transform:translate(230.50px,660.74px) rotate(0.03deg) scaleX(1.2501)">/blog/</span><span class="ln" style="font-size:16px;transform:translate(279.06px,660.73px) rotate(0.03deg) scaleX(1.1407)">product</span><span class="ln" style="font-size:16px;transform:translate(340.01px,660.72px) rotate(0.03deg) scaleX(1.1895)">-management</span><span class="ln" style="font-size:16px;transform:translate(457.72px,660.73px) rotate(0.03deg) scaleX(1.1650)">-pitfalls/</span></div>
<div class="brand"><span class="ln name" style="font-size:20.8px;transform:translate(875.94px,652.88px) rotate(0.03deg) scaleX(1.0268)">railsware</span><span class="ln sub" style="font-size:8.8px;transform:translate(877.35px,675.58px) rotate(0.03deg) scaleX(1.1469)">Product Studio</span></div>
</footer>
</main></body></html>
